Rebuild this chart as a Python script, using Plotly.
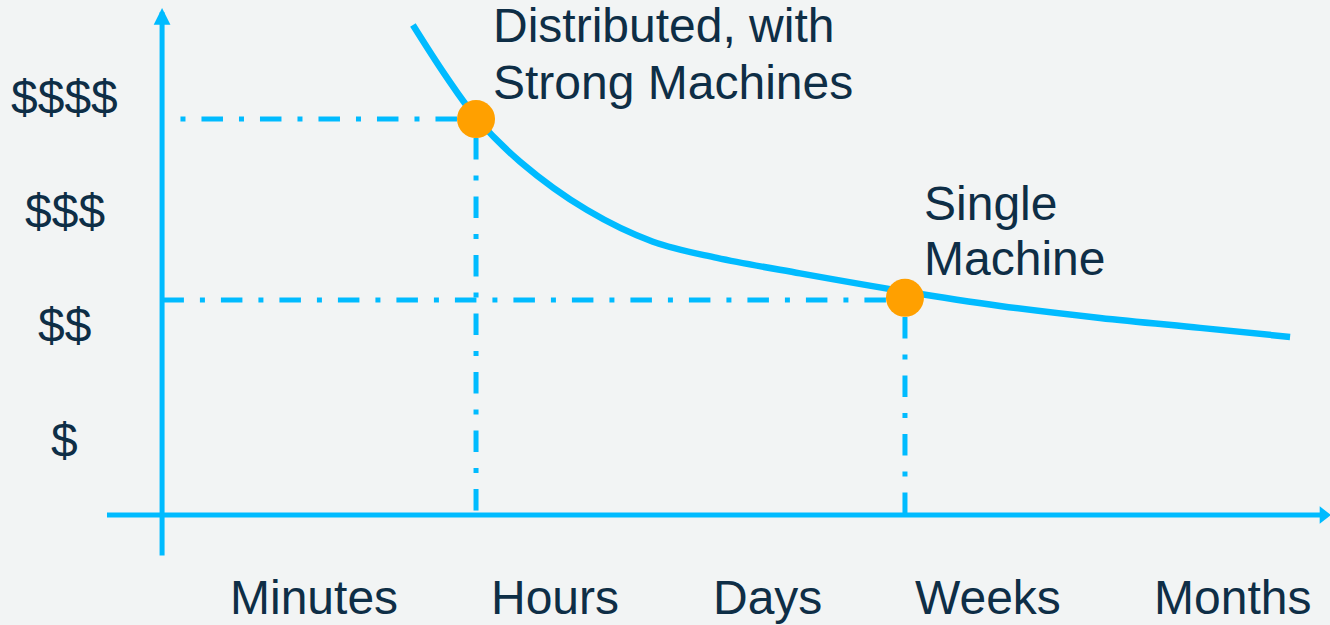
import plotly.graph_objects as go

# ---- data (x: time position, y: cost level) ----
x_labels = ["Minutes", "Hours", "Days", "Weeks", "Months"]
x_label_pos = [1.0, 2.05, 2.974, 3.937, 5.0]
y_labels = ["$", "$$", "$$$", "$$$$"]
y_label_pos = [1.0, 2.0, 3.0, 4.0]

curve_x = [1.431, 1.571, 1.706, 1.898, 2.190, 2.477, 2.756, 3.118, 3.575, 3.989, 4.425, 4.861, 5.253]
curve_y = [4.631, 4.195, 3.822, 3.435, 3.012, 2.735, 2.594, 2.458, 2.299, 2.173, 2.068, 1.981, 1.902]

point_names = ["Distributed, with<br>Strong Machines", "Single<br>Machine"]
point_x = [1.706, 3.575]
point_y = [3.808, 2.244]

# axis geometry in data units
y_axis_x = 0.338
y_axis_bottom = -0.024
y_axis_top = 4.78
x_axis_y = 0.344
x_axis_left = 0.098
x_axis_right = 5.444

CYAN = "#00bbff"
ORANGE = "#ffa000"
TEXT = "#0e2e46"
BG = "#f2f4f4"
FONT = "Liberation Sans, Arial, sans-serif"
DASH = "21.5px,16px,5px,16px"
FS = 48

fig = go.Figure()

# x axis line + arrow head
fig.add_trace(go.Scatter(x=[x_axis_left, x_axis_right - 0.04], y=[x_axis_y, x_axis_y], mode="lines",
                         line=dict(color=CYAN, width=5), hoverinfo="skip", showlegend=False))
fig.add_trace(go.Scatter(x=[x_axis_right - 0.0455], y=[x_axis_y], mode="markers",
                         marker=dict(symbol="triangle-right", size=15, color=CYAN),
                         hoverinfo="skip", showlegend=False))

# dash-dot guides (start at marker edge, run toward the axes)
fig.add_trace(go.Scatter(x=[1.623, 0.407], y=[point_y[0], point_y[0]], mode="lines",
                         line=dict(color=CYAN, width=5, dash=DASH), hoverinfo="skip", showlegend=False))
fig.add_trace(go.Scatter(x=[3.492, y_axis_x], y=[2.225, 2.225], mode="lines",
                         line=dict(color=CYAN, width=5, dash=DASH), hoverinfo="skip", showlegend=False))
fig.add_trace(go.Scatter(x=[point_x[0], point_x[0]], y=[3.642, x_axis_y], mode="lines",
                         line=dict(color=CYAN, width=5, dash=DASH), hoverinfo="skip", showlegend=False))
fig.add_trace(go.Scatter(x=[point_x[1], point_x[1]], y=[2.076, x_axis_y], mode="lines",
                         line=dict(color=CYAN, width=5, dash=DASH), hoverinfo="skip", showlegend=False))

# curve
fig.add_trace(go.Scatter(x=curve_x, y=curve_y, mode="lines",
                         line=dict(color=CYAN, width=6.5, shape="spline", smoothing=1.0),
                         hoverinfo="skip", showlegend=False))

# points
fig.add_trace(go.Scatter(x=point_x, y=point_y, mode="markers", marker=dict(size=38, color=ORANGE),
                         text=point_names, hoverinfo="text", showlegend=False))

annotations = []
annotations.append(dict(x=y_axis_x, y=y_axis_top, ax=y_axis_x, ay=y_axis_bottom, xref="x", yref="y",
                        axref="x", ayref="y", showarrow=True, arrowhead=2, arrowwidth=5, arrowsize=0.67,
                        arrowcolor=CYAN, text="", standoff=0))

for lab, px in zip(x_labels, x_label_pos):
    annotations.append(dict(x=px, y=-0.378, xref="x", yref="y", text=lab, showarrow=False,
                            xanchor="center", yanchor="middle", font=dict(family=FONT, size=FS, color=TEXT)))
for lab, py in zip(y_labels, y_label_pos):
    annotations.append(dict(x=-0.085, y=py, xref="x", yref="y", text=lab, showarrow=False,
                            xanchor="center", yanchor="middle", font=dict(family=FONT, size=FS, color=TEXT)))

label_lines = [("Distributed, with", 1.772, 4.626), ("Strong Machines", 1.772, 4.128),
               ("Single", 3.649, 3.073), ("Machine", 3.649, 2.584)]
for txt, lx, ly in label_lines:
    annotations.append(dict(x=lx, y=ly, xref="x", yref="y", text=txt, showarrow=False,
                            xanchor="left", yanchor="middle", font=dict(family=FONT, size=FS, color=TEXT)))

fig.update_layout(
    width=1330, height=625,
    margin=dict(l=0, r=0, t=0, b=0),
    paper_bgcolor=BG, plot_bgcolor=BG,
    xaxis=dict(range=[-0.3682, 5.4270], visible=False, fixedrange=True),
    yaxis=dict(range=[-0.6186, 4.850], visible=False, fixedrange=True),
    annotations=annotations,
    showlegend=False,
)

fig.write_html("out.html", config={"displayModeBar": False},
               post_script="document.body.style.margin='0';document.body.style.background='#f2f4f4';")
